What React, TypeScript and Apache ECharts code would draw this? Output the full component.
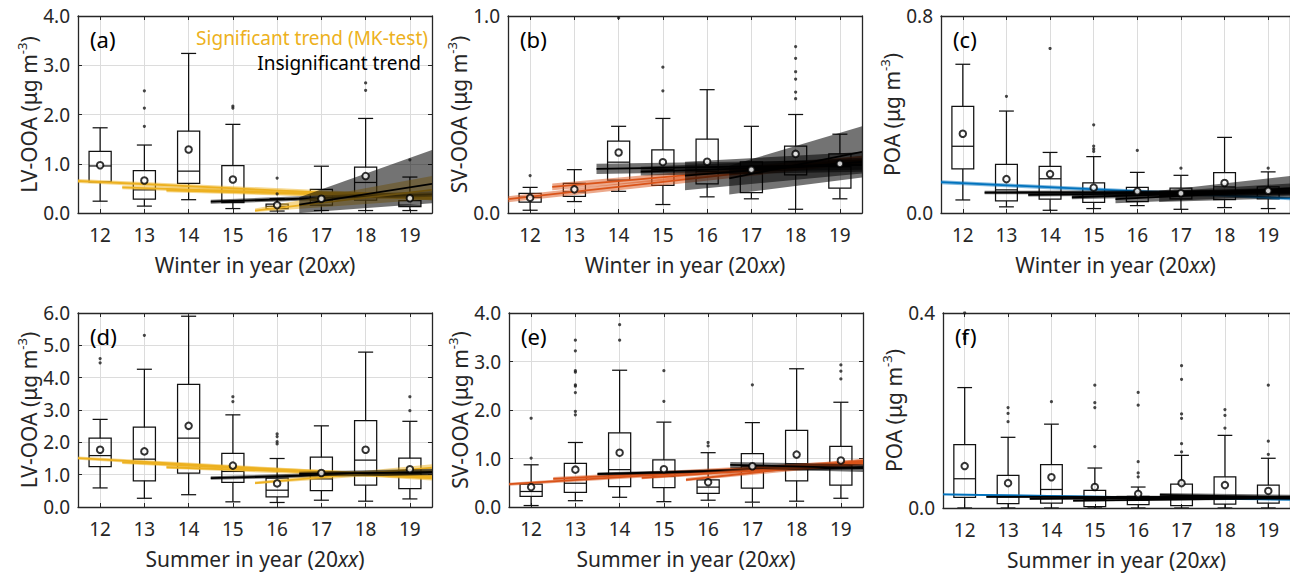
import React, { useEffect, useRef } from 'react';
import * as echarts from 'echarts';

const FONT = "'Noto Sans', 'DejaVu Sans', sans-serif";
const INK = '#262626';

const years = [12, 13, 14, 15, 16, 17, 18, 19];

// ---- box statistics per year: [min, q1, median, q3, max]
const winterLVBox = [
  [0.24, 0.63, 0.955, 1.25, 1.73],
  [0.14, 0.28, 0.47, 0.86, 1.38],
  [0.27, 0.6, 0.85, 1.66, 3.24],
  [0.09, 0.21, 0.24, 0.96, 1.8],
  [0.04, 0.09, 0.135, 0.18, 0.29],
  [0.05, 0.16, 0.26, 0.48, 0.95],
  [0.05, 0.26, 0.62, 0.93, 1.92],
  [0.05, 0.13, 0.16, 0.25, 0.73],
];
const winterLVMean = [0.97, 0.66, 1.29, 0.68, 0.16, 0.29, 0.75, 0.3];
const winterLVOut = [[13, 2.48], [13, 2.13], [13, 1.76], [15, 2.17], [15, 2.13], [16, 0.71], [16, 0.39], [18, 2.64], [18, 2.49], [19, 1.08]];
// trend per start year: [startYear, yStart, yEnd, loStart, hiStart, loEnd, hiEnd, significant]
const winterLVTrend = [
  [12, 0.65, 0.31, 0.61, 0.69, 0.26, 0.36, 1],
  [13, 0.52, 0.31, 0.48, 0.56, 0.26, 0.37, 1],
  [14, 0.46, 0.33, 0.42, 0.5, 0.27, 0.4, 1],
  [15, 0.23, 0.38, 0.19, 0.27, 0.33, 0.44, 0],
  [16, 0.05, 0.47, 0.02, 0.09, 0.28, 0.75, 1],
  [17, 0.17, 0.59, 0.0, 0.32, 0.2, 1.28, 0],
];

const winterSVBox = [
  [0.014, 0.055, 0.08, 0.1, 0.13],
  [0.058, 0.085, 0.107, 0.15, 0.22],
  [0.11, 0.167, 0.258, 0.365, 0.44],
  [0.043, 0.14, 0.22, 0.32, 0.48],
  [0.082, 0.148, 0.21, 0.375, 0.626],
  [0.072, 0.104, 0.2, 0.26, 0.44],
  [0.019, 0.193, 0.26, 0.34, 0.5],
  [0.072, 0.126, 0.235, 0.3, 0.4],
];
const winterSVMean = [0.077, 0.12, 0.307, 0.258, 0.26, 0.22, 0.3, 0.25];
const winterSVOut = [[12, 0.19], [14, 0.99], [15, 0.74], [15, 0.62], [18, 0.845], [18, 0.785], [18, 0.717], [18, 0.68], [18, 0.614], [18, 0.58]];
const winterSVTrend = [
  [12, 0.07, 0.27, 0.055, 0.085, 0.25, 0.29, 1],
  [13, 0.133, 0.27, 0.115, 0.15, 0.25, 0.29, 1],
  [14, 0.224, 0.245, 0.198, 0.25, 0.22, 0.27, 0],
  [15, 0.21, 0.245, 0.19, 0.235, 0.21, 0.28, 0],
  [16, 0.19, 0.26, 0.116, 0.26, 0.2, 0.31, 0],
  [17, 0.176, 0.31, 0.094, 0.24, 0.18, 0.44, 0],
];

const winterPOABox = [
  [0.053, 0.179, 0.271, 0.433, 0.604],
  [0.025, 0.049, 0.094, 0.197, 0.414],
  [0.011, 0.056, 0.139, 0.189, 0.246],
  [0.018, 0.043, 0.083, 0.122, 0.229],
  [0.03, 0.046, 0.083, 0.104, 0.165],
  [0.015, 0.057, 0.083, 0.101, 0.153],
  [0.022, 0.054, 0.106, 0.164, 0.307],
  [0.018, 0.057, 0.0875, 0.106, 0.167],
];
const winterPOAMean = [0.322, 0.1375, 0.158, 0.103, 0.088, 0.08, 0.122, 0.09];
const winterPOAOut = [[13, 0.474], [14, 0.668], [15, 0.358], [15, 0.272], [15, 0.26], [15, 0.25], [16, 0.254], [17, 0.182], [19, 0.182]];
const winterPOATrend = [
  [12, 0.125, 0.059, 0.117, 0.133, 0.052, 0.066, 1],
  [13, 0.083, 0.085, 0.076, 0.09, 0.075, 0.095, 0],
  [14, 0.074, 0.087, 0.067, 0.081, 0.076, 0.1, 0],
  [15, 0.064, 0.09, 0.056, 0.072, 0.075, 0.105, 0],
  [16, 0.056, 0.092, 0.04, 0.075, 0.07, 0.12, 0],
  [17, 0.07, 0.1, 0.045, 0.09, 0.06, 0.15, 0],
];

const summerLVBox = [
  [0.59, 1.25, 1.59, 2.13, 2.71],
  [0.27, 0.81, 1.48, 2.47, 4.26],
  [0.38, 1.05, 2.13, 3.79, 5.9],
  [0.16, 0.76, 1.1, 1.66, 2.85],
  [0.14, 0.31, 0.52, 0.89, 1.5],
  [0.21, 0.51, 0.87, 1.54, 2.51],
  [0.18, 0.68, 1.45, 2.67, 4.79],
  [0.25, 0.57, 1.05, 1.51, 2.65],
];
const summerLVMean = [1.77, 1.72, 2.51, 1.28, 0.73, 1.05, 1.77, 1.17];
const summerLVOut = [[12, 4.59], [12, 4.46], [13, 5.31], [15, 3.41], [15, 3.26], [16, 2.26], [16, 2.18], [16, 2.02], [16, 1.95], [19, 3.41], [19, 2.98]];
const summerLVTrend = [
  [12, 1.51, 0.89, 1.46, 1.56, 0.82, 0.96, 1],
  [13, 1.38, 0.92, 1.33, 1.43, 0.85, 0.99, 1],
  [14, 1.23, 0.95, 1.18, 1.28, 0.87, 1.03, 1],
  [15, 0.89, 1.08, 0.84, 0.95, 1.0, 1.16, 0],
  [16, 0.74, 1.22, 0.7, 0.79, 1.1, 1.32, 1],
  [17, 1.02, 1.08, 0.95, 1.09, 0.98, 1.18, 0],
];

const summerSVBox = [
  [0.03, 0.22, 0.32, 0.47, 0.87],
  [0.13, 0.3, 0.49, 0.9, 1.33],
  [0.2, 0.42, 0.77, 1.53, 2.82],
  [0.11, 0.4, 0.63, 0.97, 1.75],
  [0.14, 0.28, 0.41, 0.56, 1.12],
  [0.1, 0.39, 0.84, 1.1, 1.74],
  [0.12, 0.54, 0.89, 1.58, 2.85],
  [0.18, 0.45, 0.85, 1.25, 2.16],
];
const summerSVMean = [0.41, 0.77, 1.12, 0.78, 0.51, 0.84, 1.08, 0.96];
const summerSVOut = [[12, 1.83], [12, 1.01], [13, 3.44], [13, 3.22], [13, 2.81], [13, 2.78], [13, 2.52], [13, 2.49], [13, 2.36], [13, 1.97], [13, 1.9], [14, 3.76], [14, 3.44], [15, 2.81], [15, 2.18], [16, 1.33], [16, 1.26], [17, 2.52], [19, 2.93], [19, 2.8], [19, 2.64]];
const summerSVTrend = [
  [12, 0.47, 0.93, 0.44, 0.5, 0.88, 0.98, 1],
  [13, 0.58, 0.92, 0.55, 0.62, 0.87, 0.97, 1],
  [14, 0.68, 0.82, 0.65, 0.71, 0.78, 0.86, 0],
  [15, 0.6, 0.9, 0.57, 0.63, 0.85, 0.95, 1],
  [16, 0.56, 0.95, 0.53, 0.6, 0.88, 1.0, 1],
  [17, 0.87, 0.8, 0.8, 0.93, 0.72, 0.88, 0],
];

const summerPOABox = [
  [0, 0.022, 0.06, 0.13, 0.247],
  [0, 0.009, 0.023, 0.067, 0.145],
  [0, 0.01, 0.038, 0.089, 0.172],
  [0, 0.003, 0.017, 0.036, 0.082],
  [0, 0.007, 0.016, 0.024, 0.043],
  [0, 0.005, 0.021, 0.049, 0.108],
  [0, 0.008, 0.023, 0.064, 0.149],
  [0, 0.01, 0.021, 0.047, 0.102],
];
const summerPOAMean = [0.086, 0.051, 0.063, 0.043, 0.029, 0.051, 0.047, 0.035];
const summerPOAOut = [[12, 0.4], [12, 0.356], [12, 0.351], [12, 0.347], [13, 0.206], [13, 0.194], [13, 0.177], [14, 0.218], [15, 0.252], [15, 0.216], [15, 0.206], [15, 0.126], [16, 0.237], [16, 0.211], [16, 0.095], [16, 0.072], [16, 0.064], [17, 0.292], [17, 0.264], [17, 0.193], [17, 0.184], [17, 0.132], [17, 0.115], [18, 0.202], [18, 0.19], [18, 0.164], [19, 0.252], [19, 0.137], [19, 0.11]];
const summerPOATrend = [
  [12, 0.028, 0.017, 0.026, 0.03, 0.015, 0.019, 1],
  [13, 0.023, 0.022, 0.021, 0.025, 0.02, 0.024, 0],
  [14, 0.019, 0.022, 0.017, 0.021, 0.02, 0.024, 0],
  [15, 0.015, 0.02, 0.013, 0.017, 0.018, 0.022, 0],
  [16, 0.022, 0.022, 0.019, 0.025, 0.019, 0.025, 0],
  [17, 0.027, 0.022, 0.023, 0.031, 0.017, 0.027, 0],
];

const panelLetters = ['(a)', '(b)', '(c)', '(d)', '(e)', '(f)'];
const speciesNames = ['LV-OOA', 'SV-OOA', 'POA', 'LV-OOA', 'SV-OOA', 'POA'];
const seasonNames = ['Winter', 'Winter', 'Winter', 'Summer', 'Summer', 'Summer'];
const yMaxes = [4, 1, 0.8, 6, 4, 0.4];
const yIntervals = [1, 1, 0.8, 1, 1, 0.4];
const legendLabels = ['Significant trend (MK-test)', 'Insignificant trend'];

const boxes = [winterLVBox, winterSVBox, winterPOABox, summerLVBox, summerSVBox, summerPOABox];
const means = [winterLVMean, winterSVMean, winterPOAMean, summerLVMean, summerSVMean, summerPOAMean];
const outliers = [winterLVOut, winterSVOut, winterPOAOut, summerLVOut, summerSVOut, summerPOAOut];
const trends = [winterLVTrend, winterSVTrend, winterPOATrend, summerLVTrend, summerSVTrend, summerPOATrend];

// ---- styling / layout
const C_LV = '#EDB120';
const C_SV = '#D95319';
const C_POA = '#0072BD';
const panelColors = [C_LV, C_SV, C_POA, C_LV, C_SV, C_POA];
const layout = [
  { left: 78, top: 16, height: 197 },
  { left: 508, top: 16, height: 197 },
  { left: 941, top: 16, height: 197 },
  { left: 78, top: 313, height: 194 },
  { left: 509, top: 313, height: 194 },
  { left: 943, top: 313, height: 195 },
];
const GRID_W = 354;
const TICK_FS = 19;
const NAME_FS = 21;
const YNAME_FS = 21;

function rgba(hex: string, a: number) {
  const n = parseInt(hex.slice(1), 16);
  return `rgba(${(n >> 16) & 255},${(n >> 8) & 255},${n & 255},${a})`;
}

function buildOption() {
  const xMin = years[0] - 0.5;
  const xMax = years[years.length - 1] + 0.5;
  const grid: any[] = [];
  const xAxis: any[] = [];
  const yAxis: any[] = [];
  const series: any[] = [];
  const graphic: any[] = [];

  layout.forEach((L, i) => {
    grid.push({ left: L.left, top: L.top, width: GRID_W, height: L.height });
    const lineStyle = { color: INK, width: 1.3 };
    xAxis.push({
      gridIndex: i, type: 'value', min: xMin, max: xMax, position: 'bottom',
      axisLine: { show: true, onZero: false, lineStyle },
      axisTick: { show: true, inside: true, length: 4, customValues: years, lineStyle: { color: INK } },
      axisLabel: { customValues: years, formatter: (v: number) => String(v), fontSize: TICK_FS, color: INK, margin: 12, fontFamily: FONT },
      splitLine: { show: true, lineStyle: { color: '#dcdcdc', width: 1 } },
      name: `${seasonNames[i]} in year (20{i|xx})`,
      nameLocation: 'middle', nameGap: 41,
      nameTextStyle: { fontSize: NAME_FS, color: INK, fontFamily: FONT, rich: { i: { fontSize: NAME_FS, color: INK, fontFamily: FONT, fontStyle: 'italic' } } },
    });
    xAxis.push({
      gridIndex: i, type: 'value', min: xMin, max: xMax, position: 'top',
      axisLine: { show: true, onZero: false, lineStyle },
      axisTick: { show: true, inside: true, length: 4, customValues: years, lineStyle: { color: INK } },
      axisLabel: { show: false }, splitLine: { show: false },
    });
    yAxis.push({
      gridIndex: i, type: 'value', min: 0, max: yMaxes[i], interval: yIntervals[i], position: 'left',
      axisLine: { show: true, onZero: false, lineStyle },
      axisTick: { show: true, inside: true, length: 4, lineStyle: { color: INK } },
      axisLabel: { formatter: (v: number) => v.toFixed(1), fontSize: TICK_FS, color: INK, margin: 8, fontFamily: FONT },
      splitLine: { show: true, lineStyle: { color: '#dcdcdc', width: 1 } },
      name: `${speciesNames[i]} (μg m{sup|-3})`,
      nameLocation: 'middle', nameRotate: 90, nameGap: 35,
      nameTextStyle: { fontSize: YNAME_FS, color: INK, fontFamily: FONT, rich: { sup: { fontSize: 13, color: INK, fontFamily: FONT, verticalAlign: 'top', lineHeight: 26 } } },
    });
    yAxis.push({
      gridIndex: i, type: 'value', min: 0, max: yMaxes[i], interval: yIntervals[i], position: 'right',
      axisLine: { show: true, onZero: false, lineStyle },
      axisTick: { show: true, inside: true, length: 4, lineStyle: { color: INK } },
      axisLabel: { show: false }, splitLine: { show: false },
    });

    const color = panelColors[i];
    // boxes
    series.push({
      type: 'custom', xAxisIndex: 2 * i, yAxisIndex: 2 * i, silent: true, clip: true,
      data: years.map((y, k) => [y, ...boxes[i][k]]),
      encode: { x: 0, y: [1, 2, 3, 4, 5] },
      renderItem: (params: any, api: any) => {
        const x = api.value(0);
        const unit = api.size([1, 0])[0];
        const hw = unit * 0.25, cw = unit * 0.17;
        const p = [1, 2, 3, 4, 5].map((d) => api.coord([x, api.value(d)]));
        const cx = p[0][0];
        const st = { stroke: '#111111', lineWidth: 1.25, fill: 'none' };
        const ln = (x1: number, y1: number, x2: number, y2: number) => ({ type: 'line', shape: { x1, y1, x2, y2 }, style: st });
        return {
          type: 'group', children: [
            ln(cx, p[4][1], cx, p[3][1]),
            ln(cx - cw, p[4][1], cx + cw, p[4][1]),
            ln(cx, p[1][1], cx, p[0][1]),
            ln(cx - cw, p[0][1], cx + cw, p[0][1]),
            { type: 'rect', shape: { x: cx - hw, y: p[3][1], width: 2 * hw, height: p[1][1] - p[3][1] }, style: st },
            ln(cx - hw, p[2][1], cx + hw, p[2][1]),
          ],
        };
      },
    });
    // trends
    series.push({
      type: 'custom', xAxisIndex: 2 * i, yAxisIndex: 2 * i, silent: true, clip: true,
      data: trends[i],
      encode: { x: 0, y: [1, 2] },
      renderItem: (params: any, api: any) => {
        const x0 = api.value(0) - 0.5, x1 = xMax;
        const sig = api.value(7) === 1;
        const lineColor = sig ? color : '#000000';
        const band = sig ? rgba(color, 0.5) : 'rgba(0,0,0,0.55)';
        const pts = [api.coord([x0, api.value(3)]), api.coord([x1, api.value(5)]), api.coord([x1, api.value(6)]), api.coord([x0, api.value(4)])];
        const a = api.coord([x0, api.value(1)]);
        const b = api.coord([x1, api.value(2)]);
        return {
          type: 'group', children: [
            { type: 'polygon', shape: { points: pts }, style: { fill: band } },
            { type: 'line', shape: { x1: a[0], y1: a[1], x2: b[0], y2: b[1] }, style: { stroke: lineColor, lineWidth: 1.8 } },
          ],
        };
      },
    });
    // outliers
    series.push({
      type: 'scatter', xAxisIndex: 2 * i, yAxisIndex: 2 * i, silent: true,
      data: outliers[i], symbol: 'circle', symbolSize: 3.2,
      itemStyle: { color: '#1a1a1a' },
    });
    // means
    series.push({
      type: 'scatter', xAxisIndex: 2 * i, yAxisIndex: 2 * i, silent: true,
      data: years.map((y, k) => [y, means[i][k]]), symbol: 'circle', symbolSize: 6.5,
      itemStyle: { color: '#ffffff', borderColor: '#000000', borderWidth: 2 },
    });

    graphic.push({
      type: 'text', left: L.left + 12, top: L.top + 12, z: 100,
      style: { text: panelLetters[i], fontSize: 22, fill: '#000', fontFamily: FONT },
    });
  });

  graphic.push({
    type: 'text', x: 428, y: 38, z: 100,
    style: { text: legendLabels[0], fontSize: 19, fill: C_LV, fontFamily: FONT, align: 'right', verticalAlign: 'middle' },
  });
  graphic.push({
    type: 'text', x: 421, y: 63, z: 100,
    style: { text: legendLabels[1], fontSize: 19, fill: '#000', fontFamily: FONT, align: 'right', verticalAlign: 'middle' },
  });

  return {
    animation: false,
    backgroundColor: '#ffffff',
    textStyle: { fontFamily: FONT },
    grid, xAxis, yAxis, series, graphic,
  };
}

export default function App() {
  const ref = useRef<HTMLDivElement>(null);
  useEffect(() => {
    if (!ref.current) return;
    const chart = echarts.init(ref.current, null, { renderer: 'svg' });
    chart.setOption(buildOption() as any);
    return () => chart.dispose();
  }, []);
  return (
    <div
      ref={ref}
      style={{ position: 'absolute', left: 0, top: 0, width: 1290, height: 577, background: '#fff' }}
    />
  );
}
